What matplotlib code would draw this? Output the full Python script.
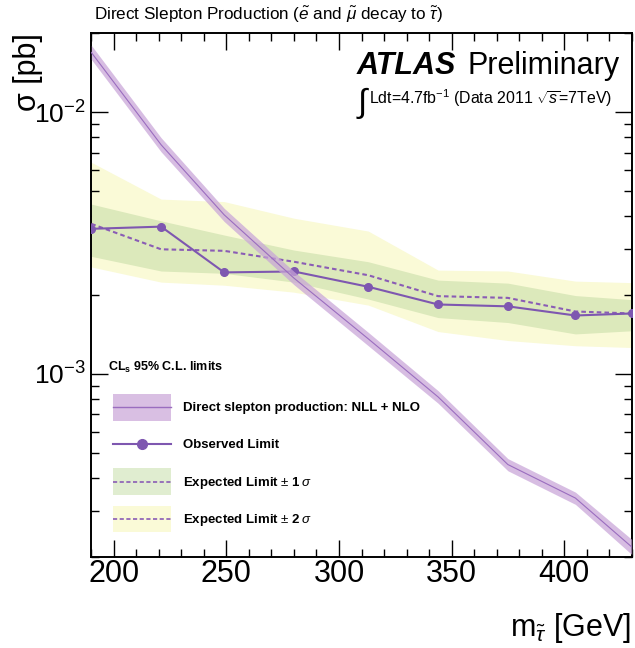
import matplotlib
matplotlib.use('Agg')
import matplotlib.pyplot as plt
from matplotlib.ticker import MultipleLocator, LogLocator, NullFormatter
from matplotlib.patches import Rectangle
from matplotlib.lines import Line2D
from matplotlib.legend_handler import HandlerBase

plt.rcParams['font.family'] = ['Liberation Sans', 'DejaVu Sans']
plt.rcParams['mathtext.fontset'] = 'custom'
plt.rcParams['mathtext.rm'] = 'Liberation Sans'
plt.rcParams['mathtext.it'] = 'Liberation Sans:italic'
plt.rcParams['mathtext.bf'] = 'Liberation Sans:bold'

# ---- data ----
masses = [190, 221, 249, 280, 313, 344, 375, 405, 430]
observed = [3.58e-3, 3.65e-3, 2.44e-3, 2.46e-3, 2.15e-3, 1.84e-3, 1.81e-3, 1.67e-3, 1.70e-3]
expected = [3.74e-3, 2.99e-3, 2.95e-3, 2.68e-3, 2.38e-3, 1.98e-3, 1.95e-3, 1.73e-3, 1.70e-3]
exp_p1 = [4.45e-3, 3.84e-3, 3.39e-3, 2.97e-3, 2.68e-3, 2.28e-3, 2.22e-3, 1.99e-3, 1.92e-3]
exp_m1 = [2.81e-3, 2.47e-3, 2.42e-3, 2.24e-3, 1.93e-3, 1.64e-3, 1.57e-3, 1.42e-3, 1.46e-3]
exp_p2 = [6.43e-3, 4.65e-3, 4.55e-3, 3.93e-3, 3.51e-3, 2.49e-3, 2.47e-3, 2.26e-3, 2.23e-3]
exp_m2 = [2.56e-3, 2.24e-3, 2.18e-3, 2.05e-3, 1.83e-3, 1.45e-3, 1.34e-3, 1.28e-3, 1.26e-3]
xsec = [1.69e-2, 7.5e-3, 4.05e-3, 2.32e-3, 1.36e-3, 8.16e-4, 4.5e-4, 3.35e-4, 2.18e-4]
xsec_up = [1.80e-2, 7.98e-3, 4.29e-3, 2.46e-3, 1.44e-3, 8.62e-4, 4.74e-4, 3.53e-4, 2.33e-4]
xsec_dn = [1.59e-2, 7.05e-3, 3.82e-3, 2.19e-3, 1.28e-3, 7.72e-4, 4.26e-4, 3.17e-4, 2.04e-4]

legend_labels = ['Direct slepton production: NLL + NLO', 'Observed Limit',
                 r'Expected Limit $\pm$ 1$\,\sigma$', r'Expected Limit $\pm$ 2$\,\sigma$']

yellow = '#fafad7'
green = '#dce9bb'
green_leg = '#e0edd0'
obs_col = '#7e57b0'
dash_col = '#8a5cb5'
band_col = '#c8a4d8'
xline_col = '#9a6dbf'


class LegendEntry:
    def __init__(self, face=None, color=None, lw=1.0, ls='-', marker=None, ms=0):
        self.face, self.color, self.lw, self.ls = face, color, lw, ls
        self.marker, self.ms = marker, ms


class BoxLineHandler(HandlerBase):
    def create_artists(self, legend, h, xdescent, ydescent, width, height, fontsize, trans):
        arts = []
        yc = height / 2 - ydescent
        if h.face is not None:
            r = Rectangle((-xdescent, -ydescent), width, height, facecolor=h.face,
                          edgecolor='none', transform=trans)
            arts.append(r)
        if h.color is not None:
            ln = Line2D([-xdescent, width - xdescent], [yc, yc], color=h.color, lw=h.lw,
                        ls=h.ls, transform=trans)
            arts.append(ln)
        if h.marker is not None:
            mk = Line2D([width / 2 - xdescent], [yc], color=h.color, marker=h.marker,
                        ms=h.ms, ls='none', transform=trans)
            arts.append(mk)
        return arts


fig = plt.figure(figsize=(6.35, 6.48), dpi=100)
ax = fig.add_axes([0.1438, 0.1409, 0.851, 0.8077])

ax.fill_between(masses, exp_m2, exp_p2, color=yellow, lw=0, zorder=1)
ax.fill_between(masses, exp_m1, exp_p1, color=green, lw=0, zorder=2)
ax.plot(masses, expected, color=dash_col, lw=1.5, ls=(0, (2.2, 1.5)), zorder=3)
ax.plot(masses, observed, color=obs_col, lw=1.5, marker='o', ms=5.5, zorder=4)
ax.fill_between(masses, xsec_dn, xsec_up, color=band_col, alpha=0.72, lw=0, zorder=5)
ax.plot(masses, xsec, color=xline_col, lw=0.8, zorder=6)

ax.set_yscale('log')
ax.set_xlim(190, 430)
ax.set_ylim(2e-4, 2e-2)

ax.xaxis.set_major_locator(MultipleLocator(50))
ax.xaxis.set_minor_locator(MultipleLocator(10))
ax.yaxis.set_major_locator(LogLocator(base=10))
ax.yaxis.set_minor_locator(LogLocator(base=10, subs=range(2, 10)))
ax.yaxis.set_minor_formatter(NullFormatter())

ax.tick_params(which='both', direction='in', top=True, right=True, width=1)
ax.tick_params(which='major', length=12)
ax.tick_params(which='minor', length=6)
ax.tick_params(axis='x', labelsize=22, pad=2)
ax.tick_params(axis='y', labelsize=19, pad=4)
for s in ax.spines.values():
    s.set_linewidth(1.4)

# legend
handles = [
    LegendEntry(face='#d9bfe3', color=xline_col, lw=1.0),
    LegendEntry(face=None, color=obs_col, lw=1.5, marker='o', ms=7),
    LegendEntry(face=green_leg, color=dash_col, lw=1.2, ls=(0, (2.5, 1.5))),
    LegendEntry(face=yellow, color=dash_col, lw=1.2, ls=(0, (2.5, 1.5))),
]
ax.legend(handles, legend_labels, loc='upper left', bbox_to_anchor=(0.0402, 0.3109),
          frameon=False, borderpad=0, borderaxespad=0, handlelength=4.4, handleheight=2.73,
          labelspacing=0.8, handletextpad=0.9,
          handler_map={LegendEntry: BoxLineHandler()},
          prop={'weight': 'bold', 'size': 9.5})

W, H = 635, 648
def fx(px): return px / W
def fy(py): return 1 - py / H

fig.text(fx(108), fy(371), r'CL$_{\mathbf{s}}$ 95% C.L. limits', fontsize=9, weight='bold',
         ha='left', va='baseline')

fig.text(fx(94), fy(20), r'Direct Slepton Production ($\tilde{e}$ and $\tilde{\mu}$ decay to $\tilde{\tau}$)',
         fontsize=12.3, ha='left', va='baseline')

fig.text(fx(357), fy(74), 'ATLAS', fontsize=22, weight='bold', style='italic', ha='left', va='baseline')
fig.text(fx(620), fy(74), 'Preliminary', fontsize=22, ha='right', va='baseline')
fig.text(fx(367), fy(103), '\u222b', fontsize=24, ha='right', va='center')
fig.text(fx(369), fy(104), r'Ldt=4.7fb$^{-1}$ (Data 2011 $\sqrt{s}$=7TeV)', fontsize=11.4,
         ha='left', va='baseline')

fig.text(fx(28), fy(33), '\u03c3 [pb]', fontsize=22, rotation=90, ha='center', va='top')
fig.text(fx(631), fy(636), r'm$_{\tilde{\tau}}$ [GeV]', fontsize=22, ha='right', va='baseline')

fig.savefig('out.png', dpi=100)
